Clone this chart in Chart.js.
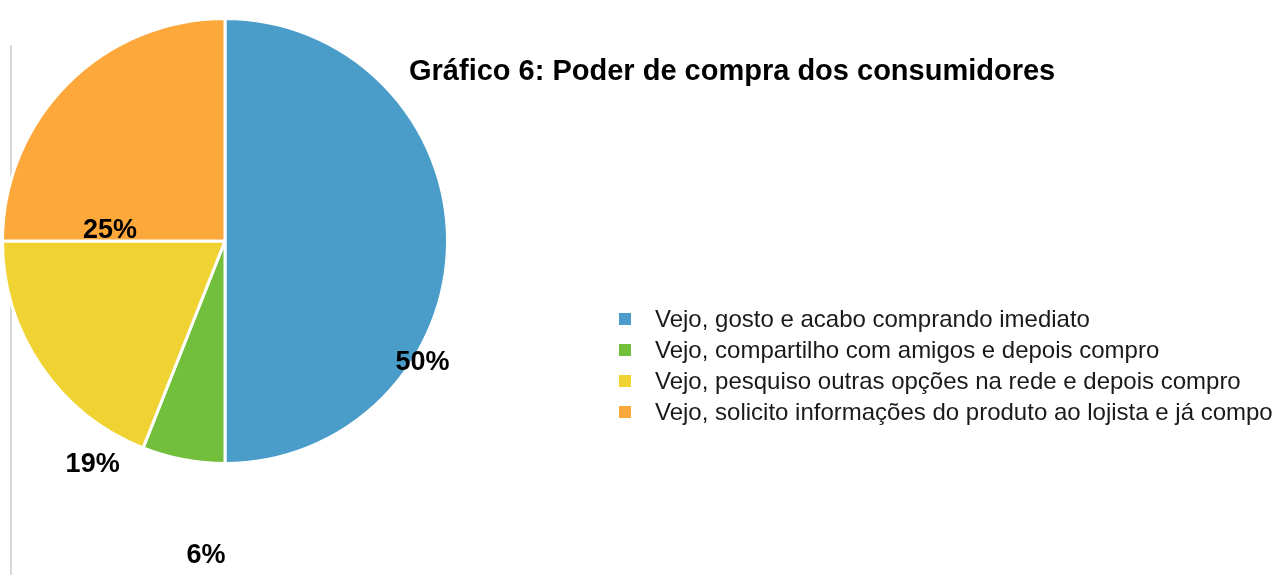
<!DOCTYPE html>
<html lang="pt">
<head>
<meta charset="utf-8">
<title>Gráfico 6: Poder de compra dos consumidores</title>
<script src="https://cdn.jsdelivr.net/npm/chart.js@4.4.1/dist/chart.umd.min.js"></script>
<style>
  html, body { margin: 0; padding: 0; background: #ffffff; }
  #wrap { position: relative; width: 1281px; height: 575px; overflow: hidden; }
  #pie { position: absolute; left: 0; top: 0; }
  #rule { position: absolute; left: 10px; top: 45px; width: 2px; height: 530px; background: #d9d9d9; }
  #title {
    position: absolute; left: 409px; top: 52px; white-space: nowrap;
    font: bold 29px "Liberation Sans", Arial, sans-serif; color: #000; line-height: 36px;
  }
  #legend {
    position: absolute; left: 619px; top: 303px; margin: 0; padding: 0; list-style: none;
    font: 24px "Liberation Sans", Arial, sans-serif; color: #1a1a1a;
  }
  #legend li { height: 31px; line-height: 31px; white-space: nowrap; }
  #legend .sw { display: inline-block; width: 12px; height: 12px; margin-right: 24px; vertical-align: 2px; }
</style>
</head>
<body>
<div id="wrap">
  <div id="rule"></div>
  <canvas id="pie" width="1281" height="575"></canvas>
  <div id="title">Gráfico 6: Poder de compra dos consumidores</div>
  <ul id="legend"></ul>
</div>
<script>
// Answer categories and their shares (%)
const categories = [
  'Vejo, gosto e acabo comprando imediato',
  'Vejo, compartilho com amigos e depois compro',
  'Vejo, pesquiso outras opções na rede e depois compro',
  'Vejo, solicito informações do produto ao lojista e já compo'
];
const shares = [50, 6, 19, 25];
const sliceColors = ['#4A9CC9', '#71BF3B', '#F0D232', '#FCA83A'];

// Where each percentage label sits: angle (deg, clockwise from 3 o'clock) and distance in radii
const labelAngles = [31, 93.5, 121, 186.5];
const labelRadii = [1.035, 1.405, 1.155, 0.52];

// Legend built from the same categories
const legendEl = document.getElementById('legend');
categories.forEach((name, i) => {
  const li = document.createElement('li');
  const sw = document.createElement('span');
  sw.className = 'sw';
  sw.style.background = sliceColors[i];
  li.appendChild(sw);
  li.appendChild(document.createTextNode(name));
  legendEl.appendChild(li);
});

// Percentage labels drawn around the pie centre
const percentLabels = {
  id: 'percentLabels',
  afterDatasetsDraw(chart) {
    const meta = chart.getDatasetMeta(0);
    const arc0 = meta.data[0];
    const cx = arc0.x, cy = arc0.y, r = arc0.outerRadius;
    const ctx = chart.ctx;
    ctx.save();
    ctx.font = 'bold 27px "Liberation Sans", Arial, sans-serif';
    ctx.fillStyle = '#000';
    ctx.textAlign = 'center';
    ctx.textBaseline = 'middle';
    shares.forEach((v, i) => {
      const a = labelAngles[i] * Math.PI / 180;
      const d = labelRadii[i] * r;
      ctx.fillText(v + '%', cx + Math.cos(a) * d, cy + Math.sin(a) * d + 3);
    });
    ctx.restore();
  }
};

new Chart(document.getElementById('pie'), {
  type: 'pie',
  data: {
    labels: categories,
    datasets: [{
      data: shares,
      backgroundColor: sliceColors,
      borderColor: '#ffffff',
      borderWidth: 3,
      hoverOffset: 0
    }]
  },
  options: {
    responsive: false,
    animation: false,
    events: [],
    layout: { padding: { left: 1, top: 17, right: 832, bottom: 110 } },
    plugins: {
      legend: { display: false },
      title: { display: false },
      tooltip: { enabled: false }
    }
  },
  plugins: [percentLabels]
});
</script>
</body>
</html>
